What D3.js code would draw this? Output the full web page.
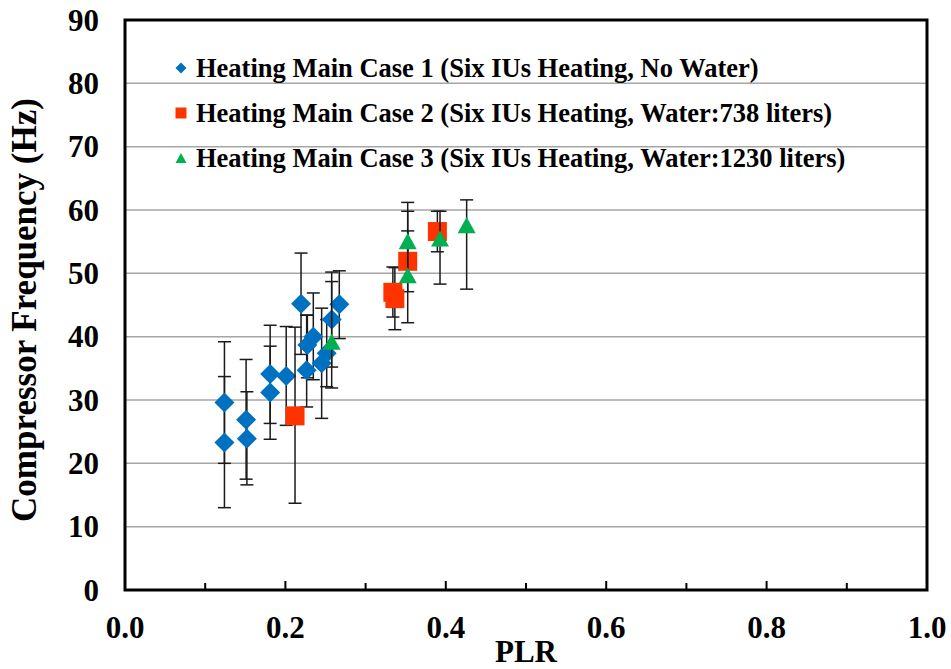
<!DOCTYPE html>
<html>
<head>
<meta charset="utf-8">
<script src="https://cdn.jsdelivr.net/npm/d3@7"></script>
<style>
  html, body { margin: 0; padding: 0; background: #fff; }
  svg { display: block; }
  text { font-family: "Liberation Serif", "Times New Roman", serif; font-weight: bold; fill: #000; }
</style>
</head>
<body>
<svg id="chart" width="951" height="669"></svg>
<script>
// Series labels
const seriesNames = [
  "Heating Main Case 1 (Six IUs Heating, No Water)",
  "Heating Main Case 2 (Six IUs Heating, Water:738 liters)",
  "Heating Main Case 3 (Six IUs Heating, Water:1230 liters)"
];

// Case 1: PLR, compressor frequency (Hz), error bar low / high (Hz)
const case1PLR  = [0.124, 0.124, 0.151, 0.152, 0.181, 0.181, 0.201, 0.2195, 0.2274, 0.2265, 0.2348, 0.2452, 0.2515, 0.2577, 0.2672];
const case1Hz   = [29.6, 23.3, 26.9, 23.9, 34.1, 31.2, 33.8, 45.2, 38.7, 34.7, 40.0, 35.8, 37.4, 42.7, 45.1];
const case1Low  = [20.0, 13.0, 17.5, 16.6, 26.3, 23.8, 26.0, 37.2, 33.5, 28.9, 33.2, 27.1, 32.1, 35.2, 39.7];
const case1High = [39.2, 33.7, 36.4, 31.3, 41.8, 38.5, 41.6, 53.2, 43.4, 43.4, 46.9, 44.5, 42.7, 50.2, 50.4];

// Case 2
const case2PLR  = [0.212, 0.334, 0.3365, 0.3525, 0.3895];
const case2Hz   = [27.5, 47.0, 46.0, 51.9, 56.6];
const case2Low  = [13.7, 43.1, 41.1, 47.1, 53.4];
const case2High = [41.5, 51.0, 50.9, 56.7, 59.8];

// Case 3
const case3PLR  = [0.2577, 0.3525, 0.3525, 0.3928, 0.426];
const case3Hz   = [39.2, 55.1, 49.7, 55.5, 57.6];
const case3Low  = [31.9, 49.0, 42.2, 48.3, 47.5];
const case3High = [48.7, 61.2, 59.8, 59.8, 61.6];

// Axis ticks
const xTicks = [0.0, 0.2, 0.4, 0.6, 0.8, 1.0];
const xMinorTicks = [0.1, 0.3, 0.5, 0.7, 0.9];
const yTicks = [0, 10, 20, 30, 40, 50, 60, 70, 80, 90];

const colors = ["#0070C0", "#FF3300", "#00B050"];
const shapes = ["diamond", "square", "triangle"];

const svg = d3.select("#chart");
const plotLeft = 125, plotRight = 927, plotTop = 20, plotBottom = 590;

const x = d3.scaleLinear().domain([0, 1]).range([plotLeft, plotRight]);
const y = d3.scaleLinear().domain([0, 90]).range([plotBottom, plotTop]);

// Marker path for a given shape and size (pixel width)
function markerPath(shape, s) {
  const h = s / 2;
  if (shape === "diamond") return `M0,${-h}L${h},0L0,${h}L${-h},0Z`;
  if (shape === "square") return `M${-h},${-h}H${h}V${h}H${-h}Z`;
  const th = s * 0.9 / 2;
  return `M0,${-th}L${h},${th}L${-h},${th}Z`;
}

// Horizontal gridlines
svg.append("g")
  .selectAll("line")
  .data(yTicks.filter(v => v > 0 && v < 90))
  .join("line")
  .attr("x1", plotLeft).attr("x2", plotRight)
  .attr("y1", d => y(d)).attr("y2", d => y(d))
  .attr("stroke", "#a6a6a6").attr("stroke-width", 1.5);

// Y tick labels
svg.append("g")
  .selectAll("text")
  .data(yTicks)
  .join("text")
  .attr("x", 99).attr("y", d => y(d))
  .attr("dy", "0.34em")
  .attr("text-anchor", "end")
  .attr("font-size", 31)
  .text(d => d);

// X tick marks (inside)
svg.append("g")
  .selectAll("line")
  .data(xTicks.concat(xMinorTicks).filter(v => v > 0 && v < 1))
  .join("line")
  .attr("x1", d => x(d)).attr("x2", d => x(d))
  .attr("y1", plotBottom)
  .attr("y2", d => plotBottom - (xTicks.includes(d) ? 9 : 7))
  .attr("stroke", "#000").attr("stroke-width", 2);

// X tick labels
svg.append("g")
  .selectAll("text")
  .data(xTicks)
  .join("text")
  .attr("x", d => x(d)).attr("y", 638)
  .attr("text-anchor", "middle")
  .attr("font-size", 31)
  .text(d => d3.format(".1f")(d));

// Axis titles
svg.append("text")
  .attr("x", x(0.5)).attr("y", 662)
  .attr("text-anchor", "middle")
  .attr("font-size", 31)
  .text("PLR");

svg.append("text")
  .attr("transform", `translate(36,310) rotate(-90)`)
  .attr("text-anchor", "middle")
  .attr("font-size", 35)
  .text("Compressor Frequency (Hz)");

// Series data
const series = [
  { plr: case1PLR, hz: case1Hz, lo: case1Low, hi: case1High },
  { plr: case2PLR, hz: case2Hz, lo: case2Low, hi: case2High },
  { plr: case3PLR, hz: case3Hz, lo: case3Low, hi: case3High }
].map((s, i) => ({
  color: colors[i], shape: shapes[i], name: seriesNames[i],
  points: s.plr.map((p, j) => ({ plr: p, hz: s.hz[j], lo: s.lo[j], hi: s.hi[j] }))
}));

const markerSize = { diamond: 20, square: 19, triangle: 18 };
const capHalf = 6.5;

series.forEach(s => {
  const g = svg.append("g");
  // error bars
  const eb = g.append("g").attr("stroke", "#1a1a1a").attr("stroke-width", 1.5).attr("fill", "none");
  s.points.forEach(d => {
    const cx = x(d.plr);
    eb.append("line").attr("x1", cx).attr("x2", cx).attr("y1", y(d.lo)).attr("y2", y(d.hi));
    eb.append("line").attr("x1", cx - capHalf).attr("x2", cx + capHalf).attr("y1", y(d.lo)).attr("y2", y(d.lo));
    eb.append("line").attr("x1", cx - capHalf).attr("x2", cx + capHalf).attr("y1", y(d.hi)).attr("y2", y(d.hi));
  });
  // markers
  g.append("g")
    .selectAll("path")
    .data(s.points)
    .join("path")
    .attr("transform", d => `translate(${x(d.plr)},${y(d.hz)})`)
    .attr("d", markerPath(s.shape, markerSize[s.shape]))
    .attr("fill", s.color);
});

// Legend
const legendRows = [68, 113, 158];
const legend = svg.append("g");
series.forEach((s, i) => {
  legend.append("path")
    .attr("transform", `translate(181,${legendRows[i]})`)
    .attr("d", markerPath(s.shape, 11))
    .attr("fill", s.color);
  legend.append("text")
    .attr("x", 196).attr("y", legendRows[i])
    .attr("dy", "0.34em")
    .attr("font-size", 26.5)
    .text(s.name);
});

// Plot frame
svg.append("rect")
  .attr("x", plotLeft).attr("y", plotTop)
  .attr("width", plotRight - plotLeft).attr("height", plotBottom - plotTop)
  .attr("fill", "none").attr("stroke", "#000").attr("stroke-width", 3);
</script>
</body>
</html>
